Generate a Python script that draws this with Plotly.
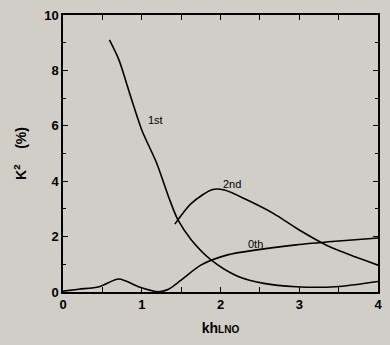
import plotly.graph_objects as go

x_1st = [0.59, 0.71, 0.86, 1.0, 1.19, 1.34, 1.46, 1.63, 1.88, 2.21, 2.55, 2.96, 3.46, 4.0]
y_1st = [9.1, 8.38, 7.05, 5.85, 4.65, 3.44, 2.6, 1.88, 1.16, 0.58, 0.31, 0.19, 0.19, 0.38]

x_2nd = [1.42, 1.63, 1.9, 2.05, 2.34, 2.67, 3.0, 3.34, 3.71, 4.0]
y_2nd = [2.45, 3.2, 3.7, 3.68, 3.32, 2.84, 2.24, 1.7, 1.27, 0.97]

x_0th = [0.0, 0.2, 0.46, 0.71, 0.96, 1.21, 1.34, 1.5, 1.75, 2.09, 2.46, 2.96, 3.46, 4.0]
y_0th = [0.03, 0.1, 0.19, 0.47, 0.19, 0.01, 0.1, 0.43, 0.97, 1.34, 1.52, 1.7, 1.83, 1.95]

labels = ["1st", "2nd", "0th"]
label_x = [1.17, 2.15, 2.45]
label_y = [6.2, 3.9, 1.73]

x_ticks = [0, 1, 2, 3, 4]
x_ticklabels = ["0", "1", "2", "3", "4"]

FAM = "Liberation Sans, Arial"

fig = go.Figure()
for xs, ys in [(x_1st, y_1st), (x_2nd, y_2nd), (x_0th, y_0th)]:
    fig.add_trace(go.Scatter(x=xs, y=ys, mode="lines",
                             line=dict(color="black", width=1.6, shape="spline", smoothing=0.8),
                             showlegend=False, hoverinfo="skip"))

for t, lx, ly in zip(labels, label_x, label_y):
    fig.add_annotation(x=lx, y=ly, text=t, showarrow=False,
                       font=dict(family=FAM, size=11, color="black"))

bg = "#d0cec7"
fig.update_layout(
    width=390, height=345,
    margin=dict(l=63, r=8, t=15, b=53),
    paper_bgcolor=bg, plot_bgcolor=bg,
    font=dict(family=FAM, size=13, color="black"),
    xaxis=dict(range=[0, 4], tickmode="array", tickvals=x_ticks, ticktext=x_ticklabels,
               showgrid=False, zeroline=False,
               showline=True, linecolor="black", linewidth=1.5, mirror="ticks",
               ticks="inside", ticklen=5, tickcolor="black", tickwidth=1,
               minor=dict(dtick=0.5, tick0=0, ticks="inside", ticklen=5, tickcolor="black"),
               tickfont=dict(family=FAM, size=13, color="black", weight="bold"),
               title=dict(text="kh<span style='font-size:10px'>LNO</span>", standoff=12,
                          font=dict(family=FAM, size=14, color="black", weight="bold"))),
    yaxis=dict(range=[0, 10], dtick=2, tick0=0, showgrid=False, zeroline=False,
               showline=True, linecolor="black", linewidth=1.5, mirror="ticks",
               ticks="inside", ticklen=5, tickcolor="black", tickwidth=1,
               minor=dict(dtick=1, ticks="inside", ticklen=3, tickcolor="black"),
               tickfont=dict(family=FAM, size=13, color="black", weight="bold"),
               title=dict(text="K<sup>2</sup>    (%)", standoff=14,
                          font=dict(family=FAM, size=14, color="black", weight="bold"))),
)
fig.write_html("out.html", config={"displayModeBar": False},
               post_script="document.body.style.margin='0';document.body.style.padding='0';"
                           "document.body.style.background='" + bg + "';")
